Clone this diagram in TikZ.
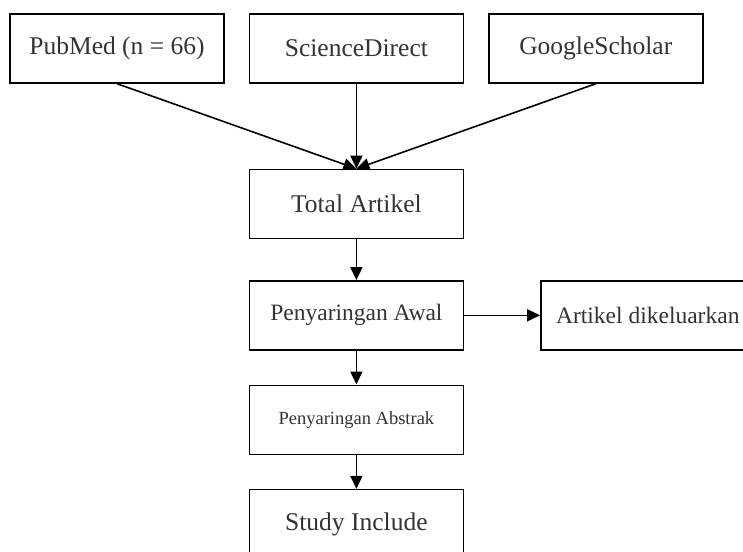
\documentclass[tikz,border=0pt]{standalone}
\usepackage{fontspec}
\setmainfont{Liberation Serif}
\usetikzlibrary{arrows.meta,positioning}

\begin{document}
\begin{tikzpicture}[
    node distance=34pt,
    source/.style={draw, line width=1.4pt, text=black!80, align=center, minimum width=214pt, minimum height=69pt, inner sep=0pt, font=\fontsize{25.5}{30}\selectfont},
    smaller/.style={font=\fontsize{23.5}{28}\selectfont},
    smallest/.style={font=\fontsize{18.5}{22}\selectfont},
    arrow/.style={-{Triangle[length=13pt,width=12pt]}, line width=1.6pt, black}
  ]
    \useasboundingbox (0,0) rectangle (743pt,-551pt);
    \node[source] (pubmed) at (117pt,-48.5pt) {PubMed (n = 66)};
    \node[source, right=24pt of pubmed] (sciencedirect) {ScienceDirect};
    \node[source, right=24pt of sciencedirect] (scholar) {GoogleScholar};
    \node[source, below=85pt of sciencedirect] (total) {Total Artikel};
    \node[source, smaller, below=41pt of total] (awal) {Penyaringan Awal};
    \node[source, smaller, right=76pt of awal, minimum width=230pt] (keluar) {\hspace*{-16pt}Artikel dikeluarkan};
    \node[source, smallest, below=of awal] (abstrak) {Penyaringan Abstrak};
    \node[source, below=of abstrak] (include) {Study Include};
    \draw[arrow] (pubmed.south) -- (total.north);
    \draw[arrow] (sciencedirect.south) -- (total.north);
    \draw[arrow] (scholar.south) -- (total.north);
    \draw[arrow] (total) -- (awal);
    \draw[arrow] (awal) -- (keluar);
    \draw[arrow] (awal) -- (abstrak);
    \draw[arrow] (abstrak) -- (include);
  \end{tikzpicture}
\end{document}
